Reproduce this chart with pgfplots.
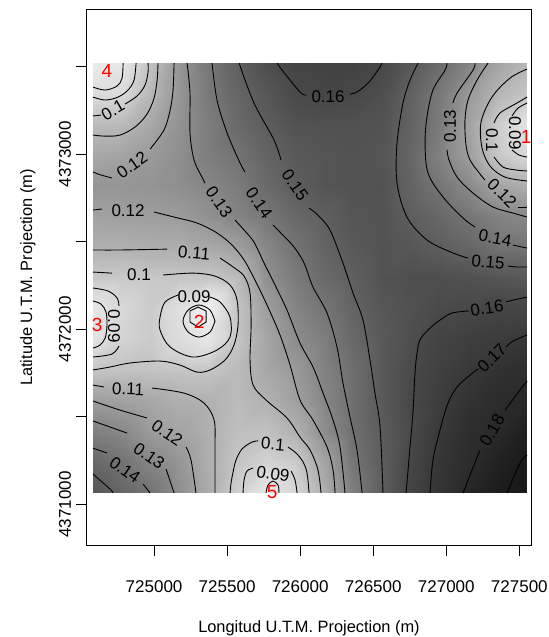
\documentclass[border=0pt]{standalone}
\usepackage{pgfplots}
\pgfplotsset{compat=1.18}
\usepackage{fontspec}
\setmainfont{Liberation Sans}
\pgfplotsset{cl/.style={black, line width=0.45pt, mark=none, smooth, tension=0.55, forget plot}}
\begin{document}
\begin{tikzpicture}
\useasboundingbox (-43.5pt,-46pt) rectangle (231pt,272.5pt);
\begin{axis}[
  at={(0,0)}, anchor=south west,
  scale only axis, width=222pt, height=267.5pt,
  xmin=724541, xmax=727580, ymin=4370769, ymax=4373823,
  scaled ticks=false,
  axis line style={line width=0.5pt},
  tick align=outside, tick pos=left,
  major tick length=5.5pt,
  tick style={black, line width=0.5pt},
  xtick={725000,725500,726000,726500,727000,727500},
  xticklabels={725000,725500,726000,726500,727000,727500},
  ytick={4371000,4371500,4372000,4372500,4373000,4373500},
  yticklabels={4371000,{},4372000,{},4373000,{}},
  tick label style={font=\fontsize{8.5}{10}\selectfont},
  xticklabel style={anchor=center},
  yticklabel style={rotate=90, anchor=center},
  xticklabel shift=15.5pt,
  yticklabel shift=5.5pt,
  xlabel={Longitud U.T.M. Projection (m)},
  ylabel={Latitude U.T.M. Projection (m)},
  label style={font=\fontsize{8.2}{10}\selectfont},
  xlabel style={at={(axis description cs:0.5,-0.155)}, anchor=center},
  ylabel style={at={(axis description cs:-0.133,0.5)}, anchor=center},
  colormap={kr}{gray(0cm)=(0.95); gray(2cm)=(0.85); gray(5cm)=(0.62); gray(9cm)=(0.28); gray(12cm)=(0.1)},
  point meta min=0.07, point meta max=0.19,
]
\addplot[surf, shader=interp, mesh/cols=16, point meta=explicit, forget plot] table[x=x, y=y, meta=z] {
x y z
724580 4373520 0.076
724778 4373520 0.079
724976 4373520 0.102
725174 4373520 0.124
725372 4373520 0.138
725570 4373520 0.149
725768 4373520 0.157
725966 4373520 0.162
726164 4373520 0.164
726362 4373520 0.164
726560 4373520 0.160
726758 4373520 0.152
726956 4373520 0.143
727154 4373520 0.132
727352 4373520 0.117
727550 4373520 0.108
724580 4373345 0.087
724778 4373345 0.089
724976 4373345 0.107
725174 4373345 0.124
725372 4373345 0.137
725570 4373345 0.146
725768 4373345 0.153
725966 4373345 0.159
726164 4373345 0.161
726362 4373345 0.160
726560 4373345 0.157
726758 4373345 0.148
726956 4373345 0.137
727154 4373345 0.122
727352 4373345 0.108
727550 4373345 0.100
724580 4373170 0.105
724778 4373170 0.106
724976 4373170 0.115
725174 4373170 0.125
725372 4373170 0.135
725570 4373170 0.144
725768 4373170 0.150
725966 4373170 0.155
726164 4373170 0.156
726362 4373170 0.156
726560 4373170 0.155
726758 4373170 0.147
726956 4373170 0.136
727154 4373170 0.118
727352 4373170 0.096
727550 4373170 0.082
724580 4372995 0.115
724778 4372995 0.117
724976 4372995 0.122
725174 4372995 0.127
725372 4372995 0.135
725570 4372995 0.140
725768 4372995 0.147
725966 4372995 0.152
726164 4372995 0.154
726362 4372995 0.155
726560 4372995 0.154
726758 4372995 0.146
726956 4372995 0.133
727154 4372995 0.120
727352 4372995 0.099
727550 4372995 0.090
724580 4372820 0.124
724778 4372820 0.124
724976 4372820 0.125
725174 4372820 0.127
725372 4372820 0.131
725570 4372820 0.136
725768 4372820 0.144
725966 4372820 0.150
726164 4372820 0.154
726362 4372820 0.155
726560 4372820 0.155
726758 4372820 0.147
726956 4372820 0.139
727154 4372820 0.130
727352 4372820 0.117
727550 4372820 0.112
724580 4372645 0.118
724778 4372645 0.119
724976 4372645 0.120
725174 4372645 0.121
725372 4372645 0.126
725570 4372645 0.132
725768 4372645 0.138
725966 4372645 0.145
726164 4372645 0.149
726362 4372645 0.154
726560 4372645 0.155
726758 4372645 0.150
726956 4372645 0.145
727154 4372645 0.139
727352 4372645 0.133
727550 4372645 0.130
724580 4372470 0.111
724778 4372470 0.111
724976 4372470 0.112
725174 4372470 0.112
725372 4372470 0.115
725570 4372470 0.119
725768 4372470 0.131
725966 4372470 0.140
726164 4372470 0.147
726362 4372470 0.152
726560 4372470 0.155
726758 4372470 0.153
726956 4372470 0.150
727154 4372470 0.146
727352 4372470 0.140
727550 4372470 0.140
724580 4372295 0.098
724778 4372295 0.098
724976 4372295 0.099
725174 4372295 0.099
725372 4372295 0.099
725570 4372295 0.105
725768 4372295 0.126
725966 4372295 0.136
726164 4372295 0.144
726362 4372295 0.149
726560 4372295 0.155
726758 4372295 0.157
726956 4372295 0.157
727154 4372295 0.156
727352 4372295 0.154
727550 4372295 0.152
724580 4372120 0.080
724778 4372120 0.090
724976 4372120 0.097
725174 4372120 0.085
725372 4372120 0.071
725570 4372120 0.100
725768 4372120 0.120
725966 4372120 0.132
726164 4372120 0.139
726362 4372120 0.147
726560 4372120 0.153
726758 4372120 0.156
726956 4372120 0.159
727154 4372120 0.160
727352 4372120 0.162
727550 4372120 0.161
724580 4371945 0.082
724778 4371945 0.093
724976 4371945 0.097
725174 4371945 0.087
725372 4371945 0.080
725570 4371945 0.100
725768 4371945 0.116
725966 4371945 0.128
726164 4371945 0.135
726362 4371945 0.145
726560 4371945 0.152
726758 4371945 0.157
726956 4371945 0.163
727154 4371945 0.166
727352 4371945 0.168
727550 4371945 0.171
724580 4371770 0.100
724778 4371770 0.101
724976 4371770 0.101
725174 4371770 0.100
725372 4371770 0.100
725570 4371770 0.105
725768 4371770 0.115
725966 4371770 0.122
726164 4371770 0.133
726362 4371770 0.142
726560 4371770 0.152
726758 4371770 0.159
726956 4371770 0.165
727154 4371770 0.170
727352 4371770 0.175
727550 4371770 0.177
724580 4371595 0.120
724778 4371595 0.118
724976 4371595 0.115
725174 4371595 0.111
725372 4371595 0.110
725570 4371595 0.105
725768 4371595 0.110
725966 4371595 0.119
726164 4371595 0.131
726362 4371595 0.142
726560 4371595 0.152
726758 4371595 0.160
726956 4371595 0.167
727154 4371595 0.174
727352 4371595 0.178
727550 4371595 0.181
724580 4371420 0.134
724778 4371420 0.130
724976 4371420 0.121
725174 4371420 0.117
725372 4371420 0.111
725570 4371420 0.103
725768 4371420 0.102
725966 4371420 0.110
726164 4371420 0.128
726362 4371420 0.142
726560 4371420 0.151
726758 4371420 0.159
726956 4371420 0.170
727154 4371420 0.177
727352 4371420 0.180
727550 4371420 0.186
724580 4371245 0.145
724778 4371245 0.140
724976 4371245 0.131
725174 4371245 0.124
725372 4371245 0.112
725570 4371245 0.100
725768 4371245 0.093
725966 4371245 0.097
726164 4371245 0.117
726362 4371245 0.139
726560 4371245 0.150
726758 4371245 0.161
726956 4371245 0.172
727154 4371245 0.178
727352 4371245 0.185
727550 4371245 0.190
724580 4371070 0.153
724778 4371070 0.146
724976 4371070 0.140
725174 4371070 0.127
725372 4371070 0.113
725570 4371070 0.095
725768 4371070 0.080
725966 4371070 0.091
726164 4371070 0.112
726362 4371070 0.135
726560 4371070 0.150
726758 4371070 0.162
726956 4371070 0.173
727154 4371070 0.182
727352 4371070 0.188
727550 4371070 0.195
};
% 0.08 around 4
\addplot[cl] coordinates {(724582,4373383) (724665,4373366) (724747,4373389) (724781,4373434) (724788,4373520)};
% 0.09 around 4
\addplot[cl] coordinates {(724582,4373326) (724665,4373309) (724754,4373326) (724822,4373366) (724863,4373423) (724877,4373520)};
% 0.1 around 4
\addplot[cl] coordinates {(724582,4373218) (724637,4373223)};
\addplot[cl] coordinates {(724801,4373286) (724884,4373332) (724938,4373394) (724959,4373469) (724959,4373520)};
% 0.11 around 4
\addplot[cl] coordinates {(724582,4373109) (724665,4373103) (724767,4373109) (724870,4373155) (724952,4373229) (725000,4373320) (725021,4373423) (725027,4373520)};
% 0.12 upper
\addplot[cl] coordinates {(724582,4372898) (724637,4372881) (724712,4372864)};
\addplot[cl] coordinates {(724973,4373029) (725068,4373138) (725110,4373252) (725130,4373366) (725137,4373520)};
% 0.12 lower
\addplot[cl] coordinates {(724582,4372681) (724644,4372687)};
\addplot[cl] coordinates {(725000,4372670) (725137,4372641) (725294,4372607) (725431,4372550) (725534,4372481) (725616,4372396) (725691,4372281) (725773,4372139) (725862,4371968) (725931,4371796) (725999,4371597) (726088,4371482) (726184,4371328) (726225,4371197) (726239,4371066)};
% 0.13
\addplot[cl] coordinates {(725226,4373520) (725246,4373349) (725246,4373121) (725274,4372966) (725328,4372869) (725349,4372835)};
\addplot[cl] coordinates {(725554,4372624) (725616,4372567) (725684,4372498) (725753,4372378) (725828,4372253) (725910,4372110) (725999,4371922) (726088,4371785) (726157,4371636) (726225,4371482) (726273,4371328) (726307,4371066)};
% 0.14
\addplot[cl] coordinates {(725397,4373520) (725431,4373309) (725500,4373121) (725589,4372949) (725623,4372898)};
\addplot[cl] coordinates {(725814,4372595) (725862,4372555) (725958,4372470) (726027,4372378) (726088,4372241) (726184,4372093) (726252,4371899) (726293,4371694) (726341,4371500) (726389,4371311) (726424,4371066)};
% 0.15
\addplot[cl] coordinates {(725582,4373520) (725684,4373292) (725821,4373081) (725869,4372966)};
\addplot[cl] coordinates {(726061,4372692) (726122,4372652) (726204,4372567) (726293,4372378) (726362,4372207) (726430,4372053) (726478,4371825) (726512,4371636) (726547,4371442) (726567,4371066)};
% 0.16 top
\addplot[cl] coordinates {(725842,4373520) (725876,4373480) (725999,4373355) (726040,4373337)};
\addplot[cl] coordinates {(726341,4373343) (726389,4373355) (726465,4373406) (726533,4373480) (726560,4373520)};
% 0.15 right
\addplot[cl] coordinates {(726807,4373520) (726752,4373423) (726704,4373292) (726663,4373063) (726663,4372835) (726731,4372641) (726868,4372510) (727046,4372436) (727149,4372407)};
\addplot[cl] coordinates {(727423,4372361) (727484,4372356) (727553,4372356)};
% 0.14 right
\addplot[cl] coordinates {(727005,4373520) (726992,4373480) (726909,4373366) (726868,4373212) (726855,4373063) (726875,4372892) (726978,4372755) (727115,4372635) (727197,4372584)};
\addplot[cl] coordinates {(727457,4372481) (727553,4372464)};
% 0.13 right
\addplot[cl] coordinates {(727197,4373520) (727183,4373480) (727074,4373349) (727046,4373292)};
\addplot[cl] coordinates {(727005,4373024) (727019,4372966) (727074,4372869) (727183,4372778) (727320,4372698) (727457,4372664) (727553,4372641)};
% 0.12 right
\addplot[cl] coordinates {(727286,4373520) (727211,4373423) (727149,4373309) (727128,4373195) (727135,4373052) (727163,4372966) (727231,4372887) (727265,4372852)};
\addplot[cl] coordinates {(727491,4372698) (727553,4372698)};
% 0.11 right
\addplot[cl] coordinates {(727553,4373486) (727436,4373434) (727313,4373326) (727238,4373183) (727245,4373035) (727300,4372932) (727402,4372869) (727553,4372847)};
% 0.1 right
\addplot[cl] coordinates {(727553,4373326) (727484,4373292) (727368,4373235) (727327,4373178)};
\addplot[cl] coordinates {(727327,4372984) (727389,4372926) (727484,4372909) (727553,4372904)};
% 0.09 right
\addplot[cl] coordinates {(727553,4373292) (727491,4373263) (727450,4373218)};
\addplot[cl] coordinates {(727450,4373024) (727498,4372995) (727553,4372984)};
% 0.16 right
\addplot[cl] coordinates {(726725,4371066) (726752,4371328) (726773,4371539) (726786,4371751) (726800,4371865) (726820,4371939) (726875,4371996) (726957,4372053) (727039,4372093) (727156,4372105)};
\addplot[cl] coordinates {(727409,4372156) (727457,4372167) (727553,4372184)};
% 0.17
\addplot[cl] coordinates {(726889,4371066) (726909,4371254) (726957,4371425) (727012,4371579) (727074,4371671) (727163,4371739) (727217,4371773)};
\addplot[cl] coordinates {(727409,4371899) (727457,4371933) (727553,4371968)};
% 0.18
\addplot[cl] coordinates {(727115,4371066) (727211,4371271) (727231,4371311)};
\addplot[cl] coordinates {(727402,4371539) (727505,4371654) (727553,4371705)};
% 0.19
\addplot[cl] coordinates {(727416,4371066) (727505,4371237) (727553,4371283)};
% 0.11 upper
\addplot[cl] coordinates {(724582,4372453) (724767,4372453) (725089,4372458)};
\addplot[cl] coordinates {(725452,4372407) (725541,4372356) (725616,4372304) (725657,4372207) (725664,4372013) (725657,4371825) (725678,4371682) (725766,4371597) (725910,4371494) (725999,4371385) (726068,4371311) (726122,4371197) (726143,4371066)};
% 0.1 around 2 and 3
\addplot[cl] coordinates {(724582,4372327) (724712,4372321)};
\addplot[cl] coordinates {(725062,4372310) (725267,4372321) (725417,4372304) (725520,4372253) (725568,4372167) (725575,4372025) (725547,4371910) (725486,4371825) (725383,4371768) (725294,4371756) (725178,4371796) (725041,4371819) (724836,4371808) (724699,4371785) (724582,4371768)};
% 0.09 around 3
\addplot[cl] coordinates {(724582,4372236) (724685,4372219) (724747,4372179) (724760,4372133)};
\addplot[cl] coordinates {(724760,4371905) (724712,4371859) (724582,4371842)};
% 0.08 around 3
\addplot[cl] coordinates {(724582,4372162) (724637,4372144) (724671,4372099) (724678,4372025) (724665,4371950) (724630,4371910) (724582,4371893)};
% 0.07 around 2
\addplot[black, line width=0.45pt, mark=none, forget plot] coordinates {(725246,4372105) (725301,4372127) (725356,4372105) (725356,4372042) (725301,4372013) (725246,4372042) (725246,4372105)};
% 0.08 around 2
\addplot[cl] coordinates {(725417,4372047) (725383,4372110) (725308,4372139) (725233,4372110) (725198,4372047) (725233,4371985) (725308,4371956) (725383,4371985) (725417,4372047)};
% 0.09 around 2
\addplot[cl] coordinates {(725164,4372196) (725075,4372156) (725041,4372070) (725041,4371996) (725110,4371899) (725267,4371842) (725431,4371882) (725520,4371956) (725520,4372070) (725452,4372156) (725383,4372184)};
% 0.11 lower
\addplot[cl] coordinates {(724582,4371682) (724658,4371671)};
\addplot[cl] coordinates {(724986,4371665) (725205,4371636) (725342,4371579) (725411,4371482) (725417,4371328) (725417,4371066)};
% 0.12 lower left
\addplot[cl] coordinates {(724582,4371591) (724767,4371539) (724952,4371494)};
\addplot[cl] coordinates {(725219,4371328) (725253,4371254) (725287,4371066)};
% 0.13 lower left
\addplot[cl] coordinates {(724582,4371477) (724815,4371408)};
\addplot[cl] coordinates {(725082,4371203) (725137,4371066)};
% 0.14 lower left
\addplot[cl] coordinates {(724582,4371322) (724678,4371294)};
\addplot[cl] coordinates {(724925,4371117) (724973,4371066)};
% 0.15 lower left
\addplot[cl] coordinates {(724582,4371174) (724699,4371088) (724719,4371066)};
% 0.1 around 5
\addplot[cl] coordinates {(725520,4371066) (725527,4371123) (725541,4371186) (725561,4371254) (725602,4371317) (725671,4371357) (725712,4371363)};
\addplot[cl] coordinates {(725917,4371328) (725972,4371294) (726020,4371243) (726047,4371180) (726061,4371066)};
% 0.09 around 5
\addplot[cl] coordinates {(725609,4371066) (725616,4371140) (725636,4371191) (725678,4371208)};
\addplot[cl] coordinates {(725938,4371191) (725965,4371140) (725979,4371066)};
% 0.08 around 5
\addplot[cl] coordinates {(725766,4371066) (725780,4371111) (725814,4371134) (725849,4371111) (725855,4371066)};
% contour labels
\addplot[only marks, mark=*, mark size=0pt, mark options={draw=none, fill=none},
  point meta=explicit symbolic, nodes near coords,
  visualization depends on={\thisrow{ang}\as\ang},
  every node near coord/.append style={rotate=\ang, anchor=center, inner sep=0pt, black, font=\fontsize{8.5}{10}\selectfont},
  forget plot] table[x=x, y=y, meta=lab] {
x y ang lab
724719 4373252 30 0.1
724849 4372938 35 0.12
724822 4372675 0 0.12
725445 4372727 -55 0.13
725719 4372721 -55 0.14
725965 4372824 -55 0.15
726191 4373326 0 0.16
727286 4372384 -5 0.15
727334 4372521 -10 0.14
727026 4373160 90 0.13
727382 4372778 -45 0.12
727313 4373081 -90 0.1
727471 4373121 -90 0.09
727279 4372122 8 0.16
727313 4371836 45 0.17
727313 4371425 60 0.18
725274 4372436 -5 0.11
724897 4372310 0 0.1
724726 4372019 -90 0.09
725274 4372184 0 0.09
724822 4371659 -2 0.11
725089 4371408 -35 0.12
724966 4371277 -35 0.13
724801 4371197 -35 0.14
725814 4371345 -5 0.1
725814 4371174 -8 0.09
};
% sample point labels
\addplot[only marks, mark=*, mark size=0pt, mark options={draw=none, fill=none},
  point meta=explicit symbolic, nodes near coords,
  every node near coord/.append style={anchor=center, inner sep=0pt, red, font=\fontsize{9.5}{11}\selectfont},
  forget plot] table[x=x, y=y, meta=lab] {
x y lab
727546 4373098 1
725308 4372042 2
724610 4372025 3
724678 4373474 4
725808 4371071 5
};
\end{axis}
\end{tikzpicture}
\end{document}
